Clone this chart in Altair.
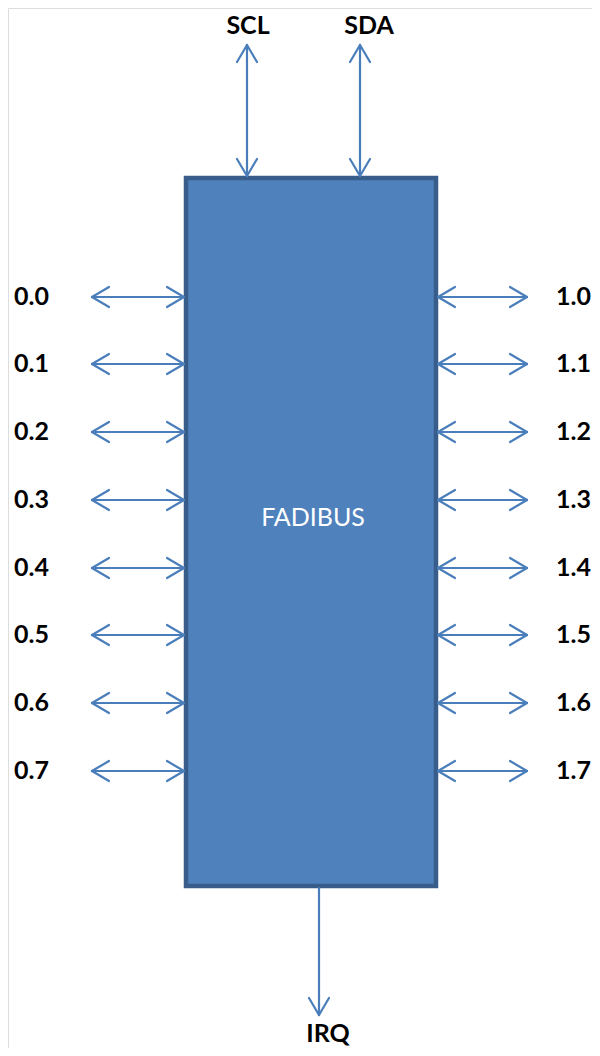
import altair as alt
import pandas as pd

# ---- diagram content ----
left_pins = ["0.0", "0.1", "0.2", "0.3", "0.4", "0.5", "0.6", "0.7"]
right_pins = ["1.0", "1.1", "1.2", "1.3", "1.4", "1.5", "1.6", "1.7"]
pin_rows = [297, 364, 432, 500, 568, 635, 703, 771]
top_pins = ["SCL", "SDA"]
top_cols = [247, 360]
top_label_cols = [248, 369]
bottom_pin = "IRQ"
bottom_col = 319
bottom_label_col = 328
block_name = "FADIBUS"
block_box = [186, 178, 436, 886]  # x, y, x2, y2

W, H = 584, 1040
XD = [8, 8 + W]
YD = [8, 8 + H]

ARROW = "#4a7ebb"
FILL = "#4f81bd"
EDGE = "#385d8a"
FONT = "Lato"

HEAD_L, HEAD_W = 17, 10

segs = []

def add_head(tx, ty, dx, dy):
    # tip at (tx,ty), arrow pointing along (dx,dy) unit direction
    bx, by = tx - dx * HEAD_L, ty - dy * HEAD_L
    px, py = -dy * HEAD_W, dx * HEAD_W
    segs.append(dict(x=tx, y=ty, x2=bx + px, y2=by + py))
    segs.append(dict(x=tx, y=ty, x2=bx - px, y2=by - py))

bx0, by0, bx1, by1 = block_box
for r in pin_rows:
    # left double arrows
    segs.append(dict(x=92, y=r, x2=bx0 - 2, y2=r))
    add_head(92, r, -1, 0)
    add_head(bx0 - 2, r, 1, 0)
    # right double arrows
    segs.append(dict(x=bx1 + 2, y=r, x2=527, y2=r))
    add_head(bx1 + 2, r, -1, 0)
    add_head(527, r, 1, 0)

for c in top_cols:
    segs.append(dict(x=c, y=45, x2=c, y2=by0 - 2))
    add_head(c, 45, 0, -1)
    add_head(c, by0 - 2, 0, 1)

segs.append(dict(x=bottom_col, y=by1 + 2, x2=bottom_col, y2=1015))
add_head(bottom_col, 1015, 0, 1)

seg_df = pd.DataFrame(segs)

xs = alt.Scale(domain=XD)
ys = alt.Scale(domain=YD, reverse=True)

arrows = alt.Chart(seg_df).mark_rule(color=ARROW, strokeWidth=2.2, strokeCap="round").encode(
    x=alt.X("x:Q", scale=xs, axis=None),
    y=alt.Y("y:Q", scale=ys, axis=None),
    x2="x2:Q",
    y2="y2:Q",
)

box_df = pd.DataFrame([dict(x=bx0, y=by0, x2=bx1, y2=by1)])
box = alt.Chart(box_df).mark_rect(fill=FILL, stroke=EDGE, strokeWidth=4.5).encode(
    x=alt.X("x:Q", scale=xs, axis=None),
    y=alt.Y("y:Q", scale=ys, axis=None),
    x2="x2:Q",
    y2="y2:Q",
)

labels = []
for name, r in zip(left_pins, pin_rows):
    labels.append(dict(t=name, x=14, y=r, a="left"))
for name, r in zip(right_pins, pin_rows):
    labels.append(dict(t=name, x=556, y=r, a="left"))
for name, c in zip(top_pins, top_label_cols):
    labels.append(dict(t=name, x=c, y=26, a="center"))
labels.append(dict(t=bottom_pin, x=bottom_label_col, y=1034, a="center"))
lab_df = pd.DataFrame(labels)

def text_layer(df, align):
    return alt.Chart(df).mark_text(
        font=FONT, fontSize=25, fontWeight="bold", color="black",
        align=align, baseline="middle",
    ).encode(
        x=alt.X("x:Q", scale=xs, axis=None),
        y=alt.Y("y:Q", scale=ys, axis=None),
        text="t:N",
    )

lab_left = text_layer(lab_df[lab_df.a == "left"], "left")
lab_center = text_layer(lab_df[lab_df.a == "center"], "center")

name_df = pd.DataFrame([dict(t=block_name, x=(bx0 + bx1) / 2 + 2, y=518)])
name_txt = alt.Chart(name_df).mark_text(
    font=FONT, fontSize=25, color="white", align="center", baseline="middle"
).encode(
    x=alt.X("x:Q", scale=xs, axis=None),
    y=alt.Y("y:Q", scale=ys, axis=None),
    text="t:N",
)

chart = alt.layer(box, arrows, lab_left, lab_center, name_txt).properties(
    width=W, height=H, padding=0, autosize=alt.AutoSizeParams(type="none")
).configure_view(strokeWidth=0, strokeOpacity=0).configure(background="white")

chart.save("out.html", embed_options={"renderer": "svg", "actions": False})
